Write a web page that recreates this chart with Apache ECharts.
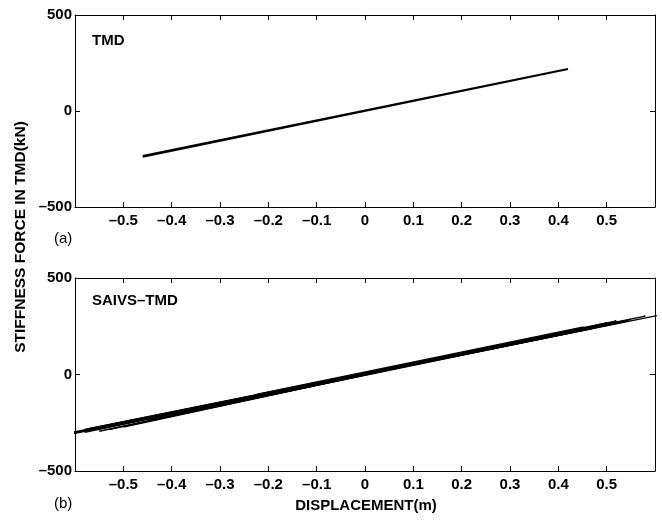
<!DOCTYPE html>
<html>
<head>
<meta charset="utf-8">
<script src="https://cdn.jsdelivr.net/npm/echarts@6/dist/echarts.min.js"></script>
<style>
  html, body { margin: 0; padding: 0; background: #fff; }
  #chart { width: 662px; height: 520px; }
</style>
</head>
<body>
<div id="chart"></div>
<script>
// 数据
var xTicks = [-0.5, -0.4, -0.3, -0.2, -0.1, 0, 0.1, 0.2, 0.3, 0.4, 0.5];
var yTicks = [-500, 0, 500];

// (a) TMD: 近似线性刚度力
var tmdLoop = [[-0.46, -238], [0.42, 219], [-0.46, -234]];

// (b) SAIVS-TMD: 若干滞回圈
var saivsLoop1 = [[-0.63, -320], [0.63, 318], [-0.63, -312]];
var saivsLoop2 = [[-0.58, -284], [0.58, 302], [-0.58, -300]];
var saivsLoop3 = [[-0.55, -294], [0.52, 278], [0.50, 262], [-0.55, -282]];
var saivsLoop4 = [[-0.50, -252], [0.50, 268], [-0.50, -272]];
var saivsLoop5 = [[-0.57, -280], [-0.23, -108], [-0.22, -100], [0.45, 245], [0.47, 238], [-0.57, -290]];
var saivsLoop6 = [[-0.40, -198], [0.40, 210], [-0.40, -212]];
var saivsLoop7 = [[-0.53, -270], [0.48, 250], [0.44, 232], [-0.53, -286]];
var saivsLoop8 = [[-0.45, -226], [0.55, 286], [0.53, 270], [-0.45, -238]];

var FONT = 'Liberation Sans, Arial, Helvetica, sans-serif';

function fmtX(v) {
    v = Math.round(v * 10) / 10;
    return v === 0 ? '0' : String(v).replace('-', '\u2013');
}
function fmtY(v) {
    return String(v).replace('-', '\u2013');
}

function xAx(gi, bottom) {
    return {
        type: 'value', gridIndex: gi, position: bottom ? 'bottom' : 'top',
        min: -0.6, max: 0.6, interval: 0.1,
        axisLine: { show: true, onZero: false, lineStyle: { color: '#000', width: 1 } },
        axisTick: { show: true, inside: true, length: 5, lineStyle: { color: '#000' } },
        axisLabel: {
            show: bottom, margin: 6, color: '#000', fontFamily: FONT,
            fontWeight: 'bold', fontSize: 15,
            showMinLabel: false, showMaxLabel: false, formatter: fmtX
        },
        splitLine: { show: false }
    };
}
function yAx(gi, left) {
    return {
        type: 'value', gridIndex: gi, position: left ? 'left' : 'right',
        min: -500, max: 500, interval: 500,
        axisLine: { show: true, onZero: false, lineStyle: { color: '#000', width: 1 } },
        axisTick: { show: true, inside: true, length: 5, lineStyle: { color: '#000' } },
        axisLabel: {
            show: left, margin: 3, color: '#000', fontFamily: FONT,
            fontWeight: 'bold', fontSize: 15, formatter: fmtY
        },
        splitLine: { show: false }
    };
}

function loop(data, xi, yi, w) {
    return {
        type: 'line', xAxisIndex: xi, yAxisIndex: yi, data: data,
        symbol: 'none', clip: true, animation: false,
        lineStyle: { color: '#000', width: w }
    };
}

var chart = echarts.init(document.getElementById('chart'));
chart.setOption({
    backgroundColor: '#fff',
    animation: false,
    grid: [
        { left: 75, right: 7, top: 15, height: 192 },
        { left: 75, right: 7, top: 278, height: 193 }
    ],
    xAxis: [xAx(0, true), xAx(0, false), xAx(1, true), xAx(1, false)],
    yAxis: [yAx(0, true), yAx(0, false), yAx(1, true), yAx(1, false)],
    series: [
        loop(tmdLoop, 0, 0, 2),
        loop(saivsLoop1, 2, 2, 1.3),
        loop(saivsLoop2, 2, 2, 1.3),
        loop(saivsLoop3, 2, 2, 1.3),
        loop(saivsLoop4, 2, 2, 1.3),
        loop(saivsLoop5, 2, 2, 1.3),
        loop(saivsLoop6, 2, 2, 1.3),
        loop(saivsLoop7, 2, 2, 1.3),
        loop(saivsLoop8, 2, 2, 1.3)
    ],
    graphic: [
        { type: 'text', left: 92, top: 33, style: { text: 'TMD', font: 'bold 15px ' + FONT, fill: '#000' } },
        { type: 'text', left: 92, top: 293, style: { text: 'SAIVS\u2013TMD', font: 'bold 15px ' + FONT, fill: '#000' } },
        { type: 'text', left: 54, top: 231, style: { text: '(a)', font: '15px ' + FONT, fill: '#000' } },
        { type: 'text', left: 54, top: 496, style: { text: '(b)', font: '15px ' + FONT, fill: '#000' } },
        {
            type: 'text', x: 366, y: 506,
            style: { text: 'DISPLACEMENT(m)', font: 'bold 15px ' + FONT, fill: '#000', textAlign: 'center', textVerticalAlign: 'middle' }
        },
        {
            type: 'text', x: 21, y: 237, rotation: Math.PI / 2,
            style: { text: 'STIFFNESS FORCE IN TMD(kN)', font: 'bold 15.5px ' + FONT, fill: '#000', textAlign: 'center', textVerticalAlign: 'middle' }
        }
    ]
});
</script>
</body>
</html>
